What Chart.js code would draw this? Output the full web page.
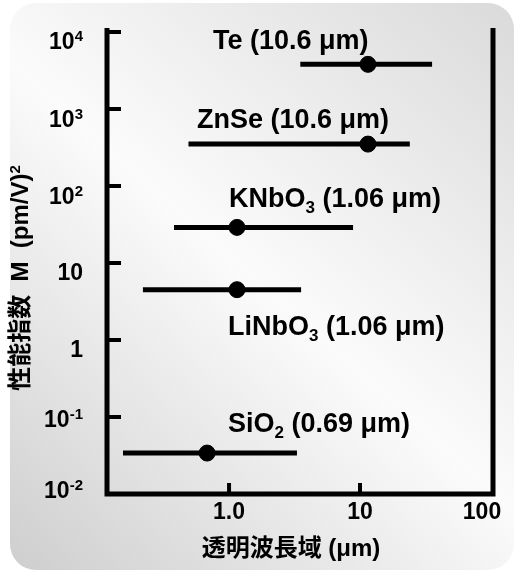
<!DOCTYPE html>
<html lang="ja">
<head>
<meta charset="UTF-8">
<title>性能指数と透明波長域</title>
<script src="https://cdn.jsdelivr.net/npm/chart.js"></script>
<style>
    body { margin: 0; background: #fff; }
    canvas { display: block; }
</style>
</head>
<body>
<canvas id="chartMerit" width="515" height="572"></canvas>
<script>
    // 材料ごとのデータ
    const materials = ['Te', 'ZnSe', 'KNbO3', 'LiNbO3', 'SiO2'];
    const wavelengths = ['10.6 μm', '10.6 μm', '1.06 μm', '1.06 μm', '0.69 μm'];
    const pointX = [11.5, 11.5, 1.15, 1.15, 0.68];
    const meritM = [3800, 350, 29, 4.5, 0.034];
    const rangeLow = [3.5, 0.49, 0.38, 0.22, 0.155];
    const rangeHigh = [35.5, 24, 8.85, 3.55, 3.3];

    const xTicks = [1, 10, 100];
    const xTickLabels = ['1.0', '10', '100'];
    const yTicks = [1e-2, 1e-1, 1, 10, 1e2, 1e3, 1e4];
    const yTickLabels = ['10^-2', '10^-1', '1', '10', '10^2', '10^3', '10^4'];

    // ラベル配置 (px)
    const labelPos = [[213, 49], [197, 128], [229, 207], [228, 335], [228, 432]];
    const yLabelNudge = [-4, 2, 9, 9, 10, 10, 9];
    const xLabelNudge = [0, 0, -9];

    const FAM = '"Liberation Sans", "Noto Sans CJK JP", sans-serif';

    function drawRich(ctx, parts, x, y, size, align) {
        let total = 0;
        parts.forEach(p => {
            p.s = p.k === 'n' ? size : Math.round(size * 0.64);
            ctx.font = 'bold ' + p.s + 'px ' + FAM;
            p.w = ctx.measureText(p.t).width;
            total += p.w;
        });
        let cx = align === 'center' ? x - total / 2 : align === 'right' ? x - total : x;
        ctx.textAlign = 'left';
        ctx.textBaseline = 'alphabetic';
        parts.forEach(p => {
            ctx.font = 'bold ' + p.s + 'px ' + FAM;
            let dy = 0;
            if (p.k === 'sub') dy = size * 0.24;
            if (p.k === 'sup') dy = -size * 0.33;
            ctx.fillText(p.t, cx, y + dy);
            cx += p.w;
        });
    }

    function formulaParts(name, tail) {
        const parts = [];
        name.split(/(\d+)/).forEach(s => {
            if (!s) return;
            parts.push({ t: s, k: /^\d+$/.test(s) ? 'sub' : 'n' });
        });
        parts.push({ t: tail, k: 'n' });
        return parts;
    }

    function powerParts(label) {
        const bits = label.split('^');
        const parts = [{ t: bits[0], k: 'n' }];
        if (bits[1]) parts.push({ t: bits[1], k: 'sup' });
        return parts;
    }

    const framePlugin = {
        id: 'frame',
        beforeDraw(chart) {
            const ctx = chart.ctx;
            ctx.save();
            ctx.fillStyle = '#fff';
            ctx.fillRect(0, 0, chart.width, chart.height);
            const g = ctx.createLinearGradient(10, 570, 515, 3);
            g.addColorStop(0, '#cecece');
            g.addColorStop(0.5, '#fbfbfb');
            g.addColorStop(1, '#dadada');
            ctx.fillStyle = g;
            ctx.beginPath();
            ctx.roundRect(10, 3, 504, 567, 26);
            ctx.fill();
            ctx.restore();
        },
        afterDatasetsDraw(chart) {
            const ctx = chart.ctx;
            const a = chart.chartArea;
            const xs = chart.scales.x, ys = chart.scales.y;
            ctx.save();
            ctx.strokeStyle = '#000';
            ctx.fillStyle = '#000';

            // 軸線
            ctx.lineWidth = 5;
            ctx.lineCap = 'butt';
            ctx.beginPath();
            ctx.moveTo(a.left, a.top);
            ctx.lineTo(a.left, a.bottom);
            ctx.lineTo(a.right, a.bottom);
            ctx.lineTo(a.right, a.top);
            ctx.stroke();

            // 目盛
            ctx.lineWidth = 4;
            yTicks.forEach((v, i) => {
                const py = ys.getPixelForValue(v);
                if (v > ys.min && v < ys.max && i > 0) {
                    ctx.beginPath();
                    ctx.moveTo(a.left, py);
                    ctx.lineTo(a.left + 14, py);
                    ctx.stroke();
                }
                drawRich(ctx, powerParts(yTickLabels[i]), 83, py + yLabelNudge[i] + 8, 23, 'right');
            });
            xTicks.forEach((v, i) => {
                const px = xs.getPixelForValue(v);
                if (v > xs.min && v < xs.max && px < a.right - 5) {
                    ctx.beginPath();
                    ctx.moveTo(px, a.bottom);
                    ctx.lineTo(px, a.bottom - 11);
                    ctx.stroke();
                }
                drawRich(ctx, [{ t: xTickLabels[i], k: 'n' }], px + xLabelNudge[i], a.bottom + 25, 23, 'center');
            });

            // 軸タイトル
            drawRich(ctx, [{ t: '透明波長域 (μm)', k: 'n' }], 291, 556, 24, 'center');
            ctx.save();
            ctx.translate(28, 278);
            ctx.rotate(-Math.PI / 2);
            drawRich(ctx, [{ t: '性能指数  M  (pm/V)', k: 'n' }, { t: '2', k: 'sup' }], 0, 0, 24, 'center');
            ctx.restore();

            // 材料ラベル
            materials.forEach((m, i) => {
                drawRich(ctx, formulaParts(m, ' (' + wavelengths[i] + ')'), labelPos[i][0], labelPos[i][1], 27, 'left');
            });
            ctx.restore();
        }
    };

    const rangeSets = materials.map((m, i) => ({
        type: 'line',
        label: m + ' 透明域',
        data: [{ x: rangeLow[i], y: meritM[i] }, { x: rangeHigh[i], y: meritM[i] }],
        borderColor: '#000',
        borderWidth: 5,
        pointRadius: 0,
        showLine: true
    }));

    const pointSet = {
        type: 'scatter',
        label: '性能指数',
        data: materials.map((m, i) => ({ x: pointX[i], y: meritM[i] })),
        backgroundColor: '#000',
        borderColor: '#000',
        pointRadius: 8
    };

    new Chart(document.getElementById('chartMerit'), {
        type: 'scatter',
        data: { datasets: [pointSet, ...rangeSets] },
        options: {
            responsive: false,
            animation: false,
            layout: { padding: { left: 107, right: 22, top: 28, bottom: 78 } },
            plugins: { legend: { display: false }, tooltip: { enabled: false } },
            scales: {
                x: { type: 'logarithmic', min: 0.117, max: 103.6, display: false },
                y: { type: 'logarithmic', min: 0.01, max: 11270, display: false }
            }
        },
        plugins: [framePlugin]
    });
</script>
</body>
</html>
